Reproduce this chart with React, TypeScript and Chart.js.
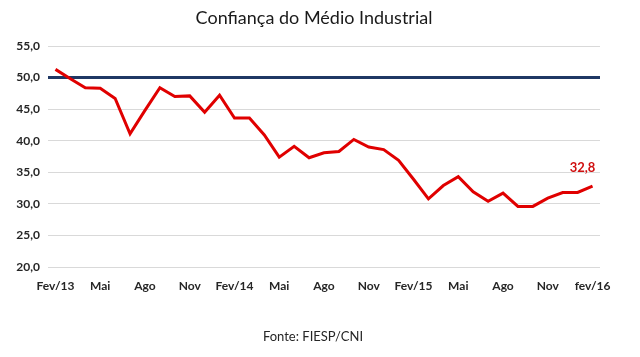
import React, { useEffect, useRef } from "react";
import { Chart, registerables } from "chart.js";

Chart.register(...registerables);

const months = [
  "Fev/13", "Mar", "Abr", "Mai", "Jun", "Jul", "Ago", "Set", "Out", "Nov", "Dez", "Jan/14",
  "Fev/14", "Mar", "Abr", "Mai", "Jun", "Jul", "Ago", "Set", "Out", "Nov", "Dez", "Jan/15",
  "Fev/15", "Mar", "Abr", "Mai", "Jun", "Jul", "Ago", "Set", "Out", "Nov", "Dez", "Jan/16",
  "fev/16",
];
const confidence = [
  51.3, 49.8, 48.4, 48.3, 46.7, 41.1, 44.8, 48.4, 47.0, 47.1, 44.5, 47.2,
  43.6, 43.6, 40.9, 37.4, 39.1, 37.3, 38.1, 38.3, 40.2, 39.0, 38.6, 36.9,
  33.9, 30.8, 32.9, 34.3, 31.9, 30.4, 31.7, 29.6, 29.6, 30.9, 31.8, 31.8,
  32.8,
];
const baselineX = [0, 1];
const baselineY = [50, 50];
const yTicks = [20, 25, 30, 35, 40, 45, 50, 55];
const title = "Confiança do Médio Industrial";
const source = "Fonte: FIESP/CNI";
const lastLabel = "32,8";

const FONT = "Lato, 'Open Sans', sans-serif";

export default function App() {
  const ref = useRef<HTMLCanvasElement | null>(null);

  useEffect(() => {
    document.body.style.margin = "0";
    const canvas = ref.current!;
    const textPlugin = {
      id: "texts",
      afterDraw(chart: any) {
        const ctx = chart.ctx;
        ctx.save();
        ctx.textAlign = "center";
        ctx.textBaseline = "middle";
        ctx.fillStyle = "#1a1a1a";
        ctx.font = `18px ${FONT}`;
        ctx.fillText(title, 314, 18);
        ctx.font = `13px ${FONT}`;
        ctx.fillStyle = "#262626";
        ctx.fillText(source, 313, 337);
        const meta = chart.getDatasetMeta(0);
        const last = meta.data[meta.data.length - 1];
        ctx.font = `bold 13px ${FONT}`;
        ctx.fillStyle = "#D01010";
        ctx.fillText(lastLabel, last.x - 10, last.y - 18);
        ctx.restore();
      },
    };

    const chart = new Chart(canvas, {
      type: "line",
      data: {
        labels: months,
        datasets: [
          {
            data: confidence,
            borderColor: "#E00000",
            borderWidth: 3,
            pointRadius: 0,
            tension: 0,
            xAxisID: "x",
          },
          {
            data: baselineX.map((x, i) => ({ x, y: baselineY[i] })),
            borderColor: "#1F3864",
            borderWidth: 3,
            pointRadius: 0,
            xAxisID: "x2",
          },
        ],
      },
      options: {
        animation: false,
        responsive: false,
        layout: { padding: { top: 46, right: 40, bottom: 60, left: 0 } },
        plugins: { legend: { display: false }, tooltip: { enabled: false }, title: { display: false } },
        scales: {
          x: {
            type: "category",
            offset: true,
            grid: { display: false },
            border: { display: false },
            ticks: {
              autoSkip: false,
              maxRotation: 0,
              padding: 4,
              color: "#262626",
              font: { family: FONT, size: 12, weight: "bold" },
              callback: (v: any, i: number) => (i % 3 === 0 ? months[i] : ""),
            },
            afterFit: (s: any) => {
              s.height = 30;
            },
          },
          x2: {
            type: "linear",
            display: false,
            min: 0,
            max: 1,
          },
          y: {
            min: 20,
            max: 55,
            grid: { color: "#d9d9d9", drawTicks: false, lineWidth: 1 },
            border: { display: false },
            afterBuildTicks: (s: any) => {
              s.ticks = yTicks.map((v) => ({ value: v }));
            },
            ticks: {
              padding: 8,
              color: "#262626",
              font: { family: FONT, size: 12, weight: "bold" },
              callback: (v: any) => Number(v).toFixed(1).replace(".", ","),
            },
            afterFit: (s: any) => {
              s.width = 48;
            },
          },
        },
      },
      plugins: [textPlugin],
    } as any);
    return () => chart.destroy();
  }, []);

  return <canvas ref={ref} width={640} height={357} style={{ display: "block" }} />;
}
